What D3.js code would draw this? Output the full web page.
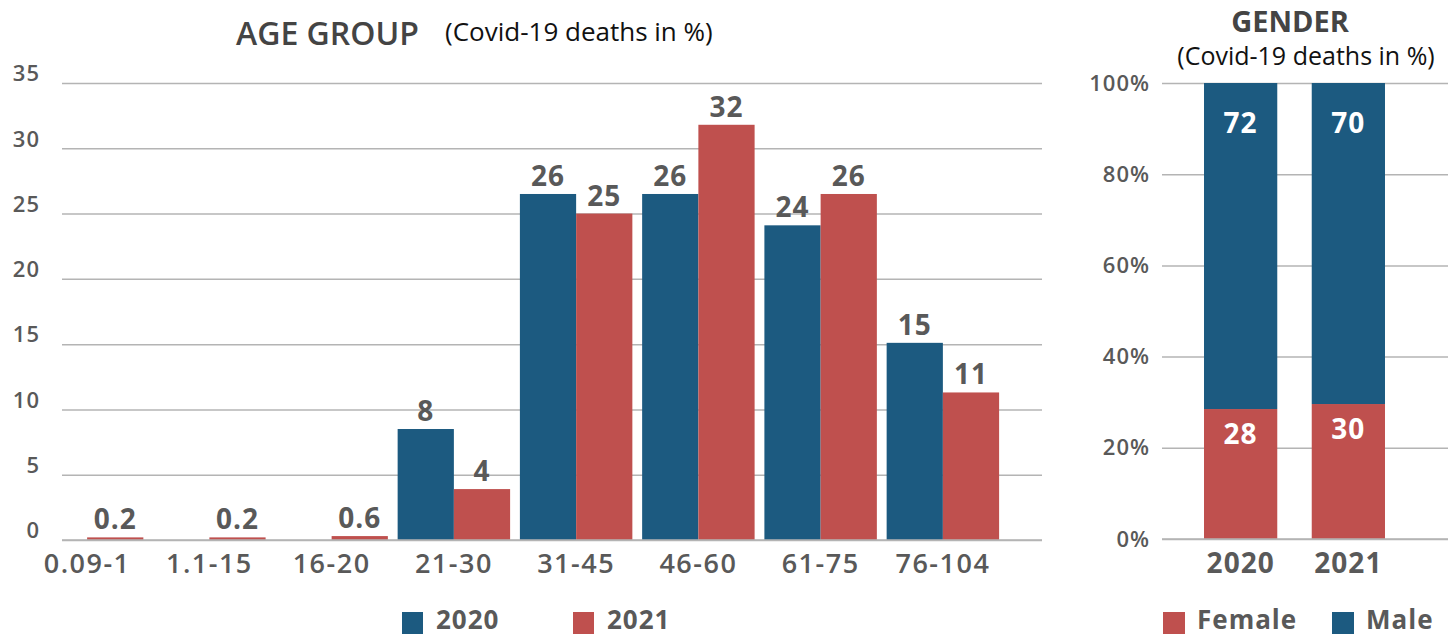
<!DOCTYPE html>
<html>
<head>
<meta charset="utf-8">
<script src="https://cdn.jsdelivr.net/npm/d3@7"></script>
<style>
body { margin: 0; background: #fff; }
svg { display: block; font-family: "Open Sans", sans-serif; }
.grid line { stroke: #b4b4b4; stroke-width: 1.5; }
.tick text { fill: #595959; font-weight: 600; }
</style>
</head>
<body>
<svg id="chart" width="1448" height="636"></svg>
<script>
// age panel
var ageGroups = ['0.09-1', '1.1-15', '16-20', '21-30', '31-45', '46-60', '61-75', '76-104'];
var deaths2020 = [0, 0, 0, 8.5, 26.5, 26.5, 24.1, 15.1];
var deaths2021 = [0.2, 0.2, 0.3, 3.9, 25.0, 31.8, 26.5, 11.3];
var labels2020 = ['', '', '', '8', '26', '26', '24', '15'];
var labels2021 = ['0.2', '0.2', '0.6', '4', '25', '32', '26', '11'];
var ageTicks = [0, 5, 10, 15, 20, 25, 30, 35];
var years = ['2020', '2021'];

// gender panel
var female = [28.5, 29.6];
var male = [71.5, 70.4];
var femaleLabels = ['28', '30'];
var maleLabels = ['72', '70'];
var pctTicks = [0, 20, 40, 60, 80, 100];
var genders = ['Female', 'Male'];

var BLUE = '#1c5a80', RED = '#bf504e', GREY = '#595959';
var FONT = '"Open Sans", sans-serif';

var svg = d3.select('#chart');

// ---------- AGE GROUP ----------
var x = d3.scaleBand().domain(ageGroups).range([26, 1004]).paddingInner(0.08).paddingOuter(0.04);
var xs = d3.scaleBand().domain(years).range([0, x.bandwidth()]);
var y = d3.scaleLinear().domain([0, 35]).range([540, 83]);

svg.append('g')
    .attr('class', 'grid')
    .attr('transform', 'translate(62,0)')
    .call(d3.axisLeft(y).tickValues(ageTicks).tickSize(-980).tickPadding(22))
    .attr('font-family', FONT)
    .call(function(g) { g.select('.domain').remove(); })
    .selectAll('text').style('font-size', '22px').style('letter-spacing', '1px').attr('dy', '-0.1em');

var ageRows = ageGroups.map(function(d, i) {
    return { group: d, vals: [deaths2020[i], deaths2021[i]], labs: [labels2020[i], labels2021[i]] };
});

var grp = svg.append('g').selectAll('g').data(ageRows).join('g')
    .attr('transform', function(d) { return 'translate(' + x(d.group) + ',0)'; });

grp.selectAll('rect')
    .data(function(d) { return d.vals.map(function(v, j) { return { year: years[j], v: v }; }); })
    .join('rect')
    .attr('x', function(d) { return xs(d.year); })
    .attr('y', function(d) { return y(d.v); })
    .attr('width', xs.bandwidth())
    .attr('height', function(d) { return y(0) - y(d.v); })
    .attr('fill', function(d) { return d.year === '2020' ? BLUE : RED; });

grp.selectAll('text')
    .data(function(d) { return d.vals.map(function(v, j) { return { year: years[j], v: v, t: d.labs[j] }; }); })
    .join('text')
    .attr('x', function(d) { return xs(d.year) + xs.bandwidth() / 2; })
    .attr('y', function(d) { return y(d.v) - 8; })
    .attr('text-anchor', 'middle')
    .style('font-size', '28px')
    .style('font-weight', 700)
    .style('letter-spacing', '1px')
    .style('fill', GREY)
    .text(function(d) { return d.t; });

svg.append('g')
    .attr('transform', 'translate(0,540)')
    .call(d3.axisBottom(x).tickSize(0).tickPadding(14))
    .attr('font-family', FONT)
    .call(function(g) { g.select('.domain').attr('stroke', '#b4b4b4').attr('stroke-width', 1.5).attr('d', 'M62,0H1042'); })
    .selectAll('text').style('font-size', '27px').style('letter-spacing', '1.5px').attr('dy', '0.71em');

svg.append('text').attr('x', 236).attr('y', 45)
    .style('font-size', '32px').style('font-weight', 600).style('fill', '#444')
    .text('AGE GROUP');
svg.append('text').attr('x', 445).attr('y', 41)
    .style('font-size', '26px').style('fill', '#111')
    .text('(Covid-19 deaths in %)');

var ageLegend = svg.append('g').selectAll('g').data(years).join('g')
    .attr('transform', function(d, i) { return 'translate(' + (402 + i * 171) + ',612)'; });
ageLegend.append('rect').attr('width', 21).attr('height', 22)
    .attr('fill', function(d) { return d === '2020' ? BLUE : RED; });
ageLegend.append('text').attr('x', 34).attr('y', 17)
    .style('font-size', '26px').style('font-weight', 700).style('letter-spacing', '1px').style('fill', GREY)
    .text(function(d) { return d; });

// ---------- GENDER ----------
var gx = d3.scaleBand().domain(years).range([1162, 1427]).paddingInner(0.32).paddingOuter(0.39);
var gy = d3.scaleLinear().domain([0, 100]).range([539, 83]);

svg.append('g')
    .attr('class', 'grid')
    .attr('transform', 'translate(1162,0)')
    .call(d3.axisLeft(gy).tickValues(pctTicks).tickSize(-286).tickPadding(12)
        .tickFormat(function(d) { return d + '%'; }))
    .attr('font-family', FONT)
    .call(function(g) { g.select('.domain').remove(); })
    .selectAll('text').style('font-size', '22px').style('letter-spacing', '1px');

var stackRows = years.map(function(yr, i) {
    return { year: yr, Female: female[i], Male: male[i], labs: { Female: femaleLabels[i], Male: maleLabels[i] } };
});
var series = d3.stack().keys(genders)(stackRows);

var sg = svg.append('g').selectAll('g').data(series).join('g')
    .attr('fill', function(d) { return d.key === 'Female' ? RED : BLUE; });
sg.selectAll('rect').data(function(d) { return d; }).join('rect')
    .attr('x', function(d) { return gx(d.data.year); })
    .attr('y', function(d) { return gy(d[1]); })
    .attr('width', gx.bandwidth())
    .attr('height', function(d) { return gy(d[0]) - gy(d[1]); });

sg.selectAll('text').data(function(s) { return s.map(function(d) { return { key: s.key, d: d }; }); })
    .join('text')
    .attr('x', function(e) { return gx(e.d.data.year) + gx.bandwidth() / 2; })
    .attr('y', function(e) { return gy(e.d[1]) + (e.key === 'Male' ? 50 : 35); })
    .attr('text-anchor', 'middle')
    .style('font-size', '28px').style('font-weight', 700).style('letter-spacing', '1px').style('fill', '#fff')
    .text(function(e) { return e.d.data.labs[e.key]; });

svg.append('g')
    .attr('transform', 'translate(0,539)')
    .call(d3.axisBottom(gx).tickSize(0).tickPadding(14))
    .attr('font-family', FONT)
    .call(function(g) { g.select('.domain').attr('stroke', '#b4b4b4').attr('stroke-width', 1.5).attr('d', 'M1162,0H1448'); })
    .selectAll('text').style('font-size', '28px').style('font-weight', 700).style('letter-spacing', '1px').attr('dy', '0.71em');

svg.append('text').attr('x', 1290).attr('y', 32).attr('text-anchor', 'middle')
    .style('font-size', '29px').style('font-weight', 700).style('fill', '#444')
    .text('GENDER');
svg.append('text').attr('x', 1306).attr('y', 65).attr('text-anchor', 'middle')
    .style('font-size', '25px').style('fill', '#111')
    .text('(Covid-19 deaths in %)');

var gLegend = svg.append('g').selectAll('g').data(genders).join('g')
    .attr('transform', function(d, i) { return 'translate(' + (1163 + i * 169) + ',612)'; });
gLegend.append('rect').attr('width', 22).attr('height', 22)
    .attr('fill', function(d) { return d === 'Female' ? RED : BLUE; });
gLegend.append('text').attr('x', 34).attr('y', 17)
    .style('font-size', '26px').style('font-weight', 700).style('letter-spacing', '1px').style('fill', GREY)
    .text(function(d) { return d; });
</script>
</body>
</html>
